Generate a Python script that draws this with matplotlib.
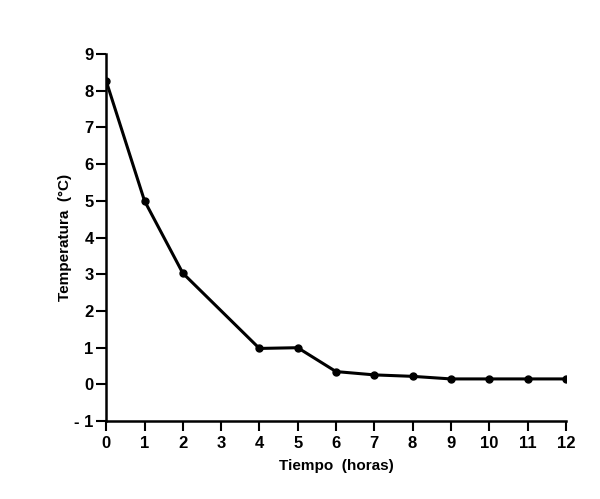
import matplotlib
matplotlib.use('Agg')
import matplotlib.pyplot as plt

# datos
horas = [0, 1, 2, 4, 5, 6, 7, 8, 9, 10, 11, 12]
temperatura = [8.26, 5.0, 3.03, 0.98, 1.0, 0.35, 0.26, 0.22, 0.15, 0.15, 0.15, 0.15]
xticks = list(range(0, 13))
yticks = list(range(-1, 10))
ytick_labels = ['- 1'] + [str(v) for v in range(0, 10)]

plt.rcParams['font.family'] = ['Liberation Sans', 'DejaVu Sans']

fig = plt.figure(figsize=(6, 4.99), dpi=100)
ax = fig.add_axes([0.177, 0.156, 0.766, 0.736])

ax.plot(horas, temperatura, color='black', lw=2.2, marker='o', ms=5)

ax.set_xlim(0, 12)
ax.set_ylim(-1, 9)
ax.set_xticks(xticks)
ax.set_yticks(yticks)
ax.set_yticklabels(ytick_labels)
ax.spines['top'].set_visible(False)
ax.spines['right'].set_visible(False)
ax.spines['left'].set_linewidth(1.8)
ax.spines['bottom'].set_linewidth(1.8)
ax.tick_params(width=1.5, length=7, labelsize=12)
ax.tick_params(axis='y', pad=2)
for lab in ax.get_xticklabels() + ax.get_yticklabels():
    lab.set_fontweight('bold')

ax.set_xlabel('Tiempo  (horas)', fontsize=11, fontweight='bold', labelpad=6)
ax.set_ylabel('Temperatura  (°C)', fontsize=11, fontweight='bold', labelpad=2)

fig.savefig('out.png', dpi=100)
